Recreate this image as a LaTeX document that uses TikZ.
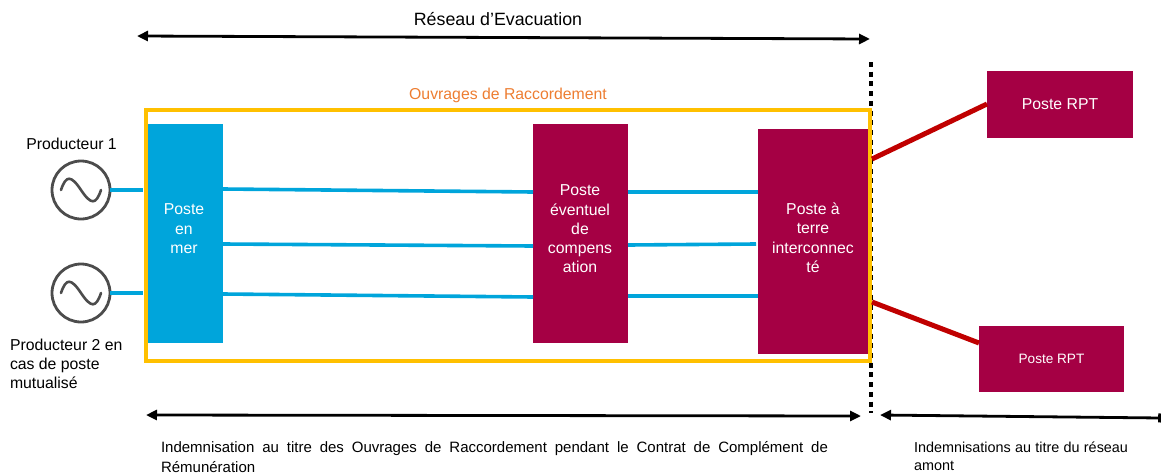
\documentclass[tikz,border=0pt]{standalone}
\usepackage{fontspec}
\setmainfont{Liberation Sans}
\usetikzlibrary{arrows.meta}
\definecolor{wine}{HTML}{A50044}
\definecolor{seablue}{HTML}{00A5DB}
\definecolor{cable}{HTML}{00A5DB}
\definecolor{frameyellow}{HTML}{FFC000}
\definecolor{labelorange}{HTML}{ED7D31}
\definecolor{linkred}{HTML}{C00000}
\tikzset{
  x=1pt,y=-1pt,
  box/.style={rectangle,inner sep=0pt,outer sep=0pt,text=white,align=center,font=\fontsize{15.8}{19.2}\selectfont},
  winebox/.style={box,fill=wine},
  bluebox/.style={box,fill=seablue},
  cableline/.style={draw=cable,line width=3.6pt},
  redline/.style={draw=linkred,line width=5pt},
  span/.style={draw=black,line width=2.8pt,{Triangle[length=11pt,width=10pt]}-{Triangle[length=11pt,width=10pt]}},
  gen/.style={circle,draw=black!70,line width=2.8pt,minimum size=58pt,inner sep=0pt,outer sep=0pt},
  lbl/.style={inner sep=0pt,outer sep=0pt,font=\fontsize{15.8}{19.2}\selectfont},
}
\begin{document}
\begin{tikzpicture}
\useasboundingbox (0,0) rectangle (1161,474);
% dotted boundary
\coordinate (dtop) at (871,62);
\coordinate (dbot) at (871,413);
\draw[black,line width=4.4pt,dash pattern=on 5pt off 4.7pt] (dtop) -- (dbot);
% frame
\node[draw=frameyellow,line width=3.2pt,minimum width=724pt,minimum height=251pt,inner sep=0pt,outer sep=0pt,anchor=north west] (frame) at (146,110) {};
% boxes
\node[bluebox,minimum width=75pt,minimum height=219pt,anchor=north west] (mer) at (148,124) {};
\node[box,anchor=north] (mertxt) at (184,204) {Poste\\en\\mer};
\node[winebox,minimum width=95pt,minimum height=219pt,anchor=north west] (comp) at (533,124) {};
\node[box,anchor=north] (comptxt) at (580,185) {Poste\\éventuel\\de\\compens\\ation};
\node[winebox,minimum width=110pt,minimum height=225pt,anchor=north west] (terre) at (758,129) {};
\node[box,anchor=north] (terretxt) at (813,203) {Poste à\\terre\\interconnec\\té};
\node[winebox,minimum width=146pt,minimum height=67pt,anchor=north west] (rpta) at (987,71) {Poste RPT};
\node[winebox,minimum width=145pt,minimum height=66pt,anchor=north west,font=\fontsize{13.6}{16}\selectfont] (rptb) at (979,326) {Poste RPT};
% generators
\node[gen] (g1) at (81,190) {};
\node[gen] (g2) at (81,293) {};
\foreach \g in {g1,g2}{
  \draw[draw=black!70,line width=2.6pt,line cap=round] ([xshift=-20pt]\g.center)
    .. controls +(5,-15) and +(-10,-15) .. (\g.center)
    .. controls +(10,15) and +(-5,15) .. ([xshift=20pt]\g.center);
}
% cables
\draw[cableline] (g1.east) -- (143,190);
\draw[cableline] (g2.east) -- (143,293);
\draw[cableline] (mer.east |- 0,189) -- (comp.west |- 0,192);
\draw[cableline] (mer.east |- 0,244) -- (comp.west |- 0,246);
\draw[cableline] (mer.east |- 0,294) -- (comp.west |- 0,297);
\draw[cableline] (comp.east |- 0,192) -- (terre.west |- 0,192);
\draw[cableline] (comp.east |- 0,245) -- (756,244);
\draw[cableline] (comp.east |- 0,296) -- (terre.west |- 0,296);
% red links
\coordinate (ra) at (872,159);
\coordinate (rb) at (872,302);
\draw[redline] (ra) -- (rpta.west |- 0,104);
\draw[redline] (rb) -- (rptb.west |- 0,343);
% arrows
\coordinate (ta) at (137,36); \coordinate (tb) at (870,39);
\coordinate (ba) at (146,415); \coordinate (bb) at (861,416);
\coordinate (ca) at (880,415); \coordinate (cb) at (1161,418);
\draw[span] (ta) -- (tb);
\draw[span] (ba) -- (bb);
\draw[draw=black,line width=2.8pt,{Triangle[length=11pt,width=10pt]}-{Bar[width=9pt]}] (ca) -- (cb);
% labels
\node[lbl,font=\fontsize{17.8}{20}\selectfont] (t1) at (498,19) {Réseau d’Evacuation};
\node[lbl,text=labelorange] (t2) at (508,95) {Ouvrages de Raccordement};
\node[lbl] (t3) at (71.5,144) {Producteur 1};
\node[lbl,align=left,anchor=north west] (t4) at (10,339) {Producteur 2 en\\cas de poste\\mutualisé};
\node[lbl,anchor=north west,align=left,font=\fontsize{15}{20}\selectfont] (t5) at (161,441) {\makebox[667pt][s]{Indemnisation au titre des Ouvrages de Raccordement pendant le Contrat de Complément de}\\Rémunération};
\node[lbl,anchor=north west,align=left,font=\fontsize{14.4}{18}\selectfont] (t6) at (914,442) {\makebox[214pt][s]{Indemnisations au titre du réseau}\\amont};
\end{tikzpicture}
\end{document}
